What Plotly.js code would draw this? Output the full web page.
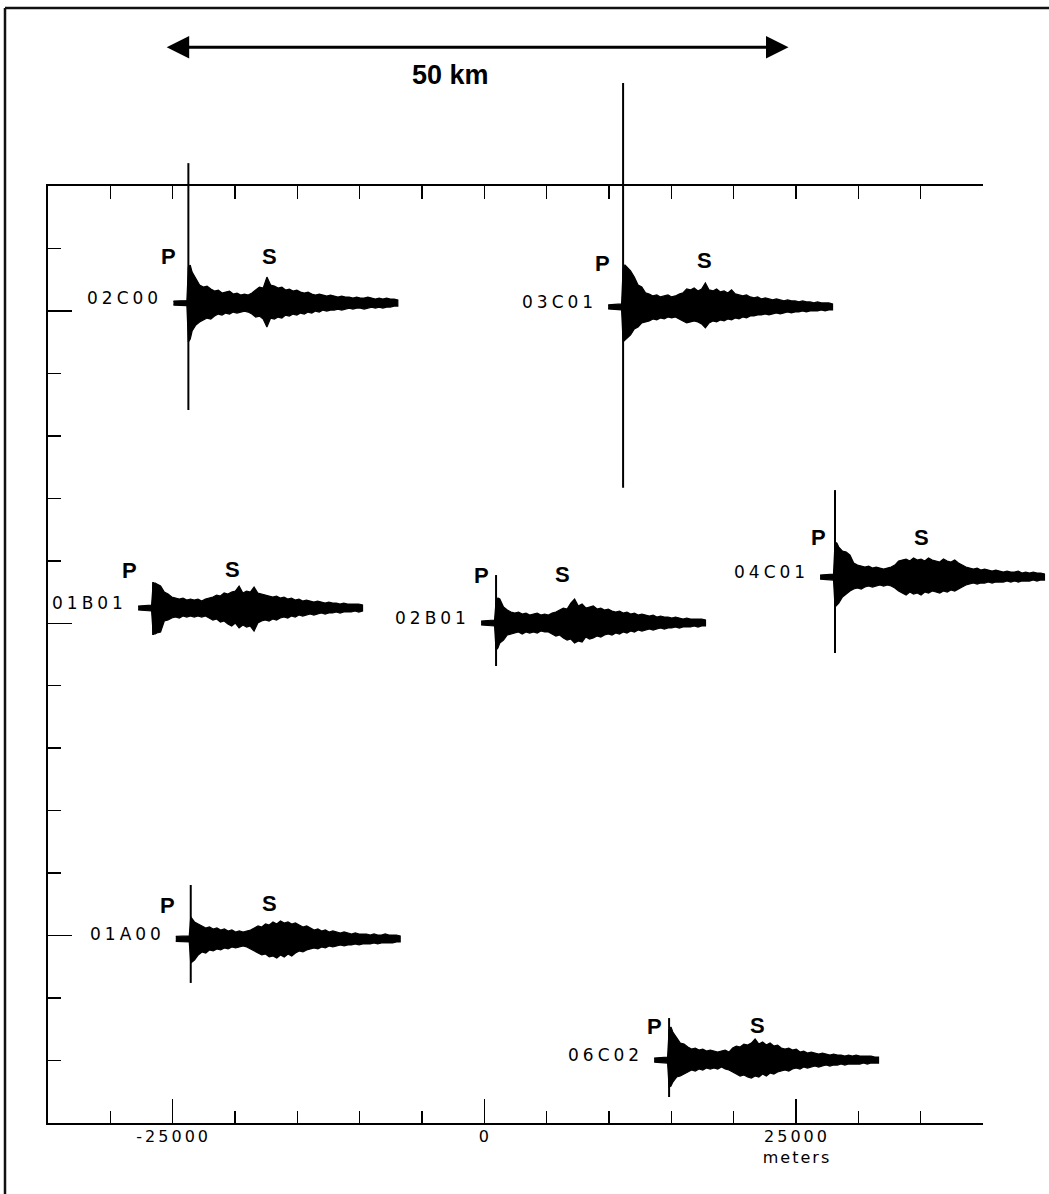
<!DOCTYPE html>
<html><head><meta charset="utf-8">
<script src="https://cdn.plot.ly/plotly-3.0.1.min.js"></script>
<style>html,body{margin:0;padding:0;background:#fff}#chart{width:1049px;height:1194px}</style>
</head><body><div id="chart"></div>
<script>
// ---------------- data ----------------
const stations = ['02C00', '03C01', '01B01', '02B01', '04C01', '01A00', '06C02'];
// trace start (metres) and baseline (metres) of each seismogram on the map
const stationX = [-24940, 9930, -27770, -260, 26930, -24750, 13620];
const stationY = [25630, 25320, 1220, 20, 3700, -25270, -34960];
// sample times (s) of the envelope readings
const timeSec = [0, 3.6, 4, 4.5, 5, 6, 7, 8, 9, 10, 11, 12, 13, 14, 15, 16, 17, 18, 19, 20,
  21, 22, 23, 24, 25, 26, 27, 28, 29, 30, 31, 32, 33, 34, 35, 36, 37, 38, 39, 40,
  41, 42, 43, 44, 45, 46, 47, 48, 49, 50, 51, 52, 53, 54, 55, 56, 57, 58, 59, 60];
// upper / lower envelope (counts) read from the records
const up02C00 = [2, 2.5, 36, 38, 31, 24, 18, 16, 17, 14, 12, 13, 10, 11, 12, 9, 10, 8, 9, 8, 10, 13, 16, 15, 26, 18, 17, 15, 16, 13, 14, 12, 13, 11, 10, 11, 9, 8, 9, 8, 7, 8, 7, 6, 7, 6, 6, 5, 6, 5, 5, 6, 5, 4, 5, 4, 5, 4, 4, 3];
const dn02C00 = [2, 2.5, 39, 36, 28, 22, 19, 17, 15, 16, 13, 11, 12, 10, 11, 9, 10, 9, 8, 9, 11, 14, 13, 16, 24, 15, 16, 14, 15, 12, 13, 11, 12, 10, 11, 9, 10, 8, 9, 7, 8, 7, 7, 6, 7, 6, 5, 6, 5, 5, 6, 5, 4, 5, 4, 5, 4, 4, 3, 3];
const up03C01 = [2, 3, 38, 42, 40, 36, 30, 22, 20, 14, 13, 11, 12, 10, 11, 12, 10, 11, 13, 14, 18, 17, 19, 16, 18, 24, 17, 16, 18, 15, 16, 14, 17, 13, 12, 11, 12, 10, 9, 10, 8, 9, 8, 7, 8, 7, 6, 7, 6, 6, 5, 6, 5, 5, 4, 5, 4, 4, 4, 3];
const dn03C01 = [2, 3, 35, 33, 32, 28, 22, 20, 16, 15, 14, 12, 13, 11, 12, 10, 11, 10, 12, 14, 16, 15, 14, 15, 17, 21, 16, 14, 15, 13, 14, 12, 13, 11, 12, 10, 11, 9, 9, 8, 8, 7, 8, 7, 6, 7, 6, 5, 6, 5, 5, 4, 5, 4, 4, 4, 3, 4, 3, 3];
const up01B01 = [2, 3, 24, 25, 24, 22, 16, 14, 11, 10, 9, 10, 8, 9, 8, 9, 7, 9, 10, 11, 13, 12, 15, 14, 16, 17, 22, 15, 17, 16, 21, 15, 14, 13, 12, 11, 12, 10, 11, 9, 10, 8, 9, 7, 8, 7, 6, 7, 6, 5, 6, 5, 5, 4, 5, 4, 4, 4, 4, 3];
const dn01B01 = [2, 3, 25, 26, 25, 24, 13, 12, 10, 9, 10, 8, 9, 8, 9, 8, 9, 8, 10, 12, 11, 14, 13, 16, 18, 15, 20, 17, 19, 18, 23, 15, 13, 12, 13, 11, 12, 10, 9, 10, 8, 9, 7, 8, 7, 6, 7, 6, 5, 6, 5, 5, 4, 5, 4, 4, 4, 3, 4, 3];
const up02B01 = [2, 3, 22, 25, 24, 16, 13, 11, 10, 11, 9, 10, 8, 9, 10, 8, 9, 8, 10, 11, 13, 15, 14, 20, 24, 17, 19, 15, 16, 17, 14, 15, 13, 14, 12, 11, 12, 10, 11, 9, 10, 8, 9, 8, 7, 8, 6, 7, 6, 6, 5, 6, 5, 4, 5, 4, 4, 4, 4, 3];
const dn02B01 = [2, 3, 27, 25, 20, 17, 12, 11, 10, 9, 11, 9, 10, 9, 10, 8, 9, 9, 11, 13, 12, 15, 17, 16, 20, 18, 19, 14, 16, 15, 13, 14, 12, 11, 12, 10, 11, 9, 10, 8, 9, 7, 8, 7, 6, 7, 6, 5, 6, 5, 5, 4, 5, 4, 4, 4, 3, 4, 3, 3];
const up04C01 = [2, 3, 35, 34, 30, 26, 25, 22, 14, 12, 11, 10, 11, 9, 10, 9, 8, 9, 10, 12, 16, 17, 18, 16, 19, 17, 18, 16, 19, 17, 16, 15, 18, 16, 15, 17, 14, 12, 10, 9, 8, 9, 7, 8, 7, 6, 7, 6, 5, 6, 5, 5, 6, 4, 5, 4, 5, 4, 4, 3];
const dn04C01 = [2, 3, 30, 28, 26, 20, 17, 14, 12, 11, 12, 10, 9, 10, 9, 8, 9, 8, 9, 11, 14, 16, 18, 15, 17, 16, 18, 15, 16, 14, 15, 16, 14, 15, 13, 14, 12, 10, 8, 7, 6, 7, 6, 6, 5, 6, 5, 5, 5, 4, 5, 4, 5, 4, 4, 4, 3, 4, 3, 3];
const up01A00 = [2.5, 3, 22, 20, 17, 15, 13, 11, 12, 10, 11, 9, 10, 8, 9, 7, 8, 7, 8, 9, 11, 13, 12, 15, 14, 17, 15, 18, 16, 17, 15, 16, 14, 12, 13, 11, 9, 10, 8, 9, 7, 8, 7, 6, 7, 6, 5, 6, 5, 5, 5, 4, 5, 4, 4, 5, 4, 4, 4, 3];
const dn01A00 = [2.5, 3, 24, 23, 21, 16, 13, 14, 11, 12, 10, 11, 9, 10, 8, 9, 8, 7, 8, 10, 12, 14, 16, 15, 18, 17, 19, 16, 18, 15, 17, 14, 12, 13, 11, 10, 9, 10, 8, 9, 7, 8, 7, 6, 7, 6, 6, 5, 6, 5, 5, 5, 4, 5, 4, 4, 4, 4, 3, 3];
const up06C02 = [2, 3, 30, 33, 28, 22, 17, 16, 13, 11, 12, 10, 11, 9, 10, 9, 8, 9, 10, 8, 12, 14, 13, 16, 15, 17, 21, 16, 18, 15, 17, 14, 15, 12, 11, 12, 10, 11, 8, 9, 7, 8, 7, 6, 7, 6, 5, 6, 5, 5, 4, 5, 4, 5, 4, 4, 4, 4, 3, 3];
const dn06C02 = [2, 3, 27, 26, 22, 17, 16, 14, 12, 10, 11, 9, 10, 8, 9, 8, 9, 7, 9, 10, 12, 14, 16, 15, 17, 18, 16, 17, 14, 16, 13, 14, 12, 11, 10, 11, 9, 8, 9, 7, 8, 7, 6, 7, 6, 5, 6, 5, 5, 4, 5, 4, 4, 4, 4, 3, 4, 3, 3, 3];
const envUp = [up02C00, up03C01, up01B01, up02B01, up04C01, up01A00, up06C02];
const envDn = [dn02C00, dn03C01, dn01B01, dn02B01, dn04C01, dn01A00, dn06C02];
// P first-motion spike (counts up / down) and its time (s)
const pTime = [4, 4, 4, 4, 4, 4, 4];
const spikeUp = [140, 224, 26, 48, 87, 54, 42];
const spikeDn = [107, 181, 27, 43, 76, 44, 37];
// P and S picks: label time (s) and label height (counts)
const pLabelT = [-1.4, -1.5, -2.4, 0.1, -0.3, -2.2, 0.1];
const pLabelH = [47, 43.5, 38, 48, 39.5, 33, 33.5];
const sLabelT = [25.6, 25.9, 25.1, 21.8, 27.0, 25.1, 27.6];
const sLabelH = [47, 46, 39, 49, 40, 35, 35];
// axes
const xRange = [-35000, 40000];
const yRange = [-40000, 35000];
const majorTicks = [-25000, 0, 25000];
const majorTickText = ['-25000', '0', '25000'];
const axisUnit = 'meters';
const minorTicks = [-35000, -30000, -25000, -20000, -15000, -10000, -5000, 0, 5000, 10000, 15000, 20000, 25000, 30000, 35000, 40000];
const minorTicksY = [-40000, -35000, -30000, -25000, -20000, -15000, -10000, -5000, 0, 5000, 10000, 15000, 20000, 25000, 30000, 35000];
// scale bar
const scaleBarStart = -25600, scaleBarLength = 50000, scaleBarY = 46100;
const scaleBarLabel = '50 km', scaleBarLabelX = -2750, scaleBarLabelY = 43900;

// ---------------- drawing ----------------
const GAIN = 80;        // plot metres per count
const TIME_SCALE = 300; // plot metres per second
const W = 1049, H = 1194;
const plotL = 48, plotR = 983, plotT = 186, plotB = 1123;
const mx = (xRange[1] - xRange[0]) / (plotR - plotL);
const my = (yRange[1] - yRange[0]) / (plotB - plotT);
const x2Range = [xRange[0] - plotL * mx, xRange[1] + (W - plotR) * mx];
const y2Range = [yRange[0] - (H - plotB) * my, yRange[1] + plotT * my];

const spaced = (s, px) => '<span style="letter-spacing:' + px + 'px">' + s + '</span>';
const labelFont = {family: 'DejaVu Sans, Verdana, sans-serif', size: 17, color: '#000'};
const boldFont = {family: 'Liberation Sans, Arial, sans-serif', size: 22, color: '#000', weight: 'bold'};

const traces = [];
const annotations = [];
// invisible anchors so the framed axes exist
traces.push({type: 'scatter', x: [xRange[0]], y: [yRange[0]], mode: 'markers', marker: {opacity: 0}, hoverinfo: 'skip', xaxis: 'x', yaxis: 'y'});
traces.push({type: 'scatter', x: [xRange[0]], y: [yRange[0]], mode: 'markers', marker: {opacity: 0}, hoverinfo: 'skip', xaxis: 'x3', yaxis: 'y'});

stations.forEach((name, i) => {
  const n = Math.min(timeSec.length, envUp[i].length, envDn[i].length);
  const xs = [], yu = [], yd = [];
  for (let k = 0; k < n; k++) {
    xs.push(stationX[i] + timeSec[k] * TIME_SCALE);
    yu.push(stationY[i] + envUp[i][k] * GAIN);
    yd.push(stationY[i] - envDn[i][k] * GAIN);
  }
  traces.push({
    type: 'scatter', mode: 'lines', xaxis: 'x2', yaxis: 'y2', hoverinfo: 'skip',
    x: xs.concat(xs.slice().reverse()), y: yu.concat(yd.slice().reverse()),
    fill: 'toself', fillcolor: '#000', line: {color: '#000', width: 1.2}
  });
  const px = stationX[i] + pTime[i] * TIME_SCALE;
  traces.push({
    type: 'scatter', mode: 'lines', xaxis: 'x2', yaxis: 'y2', hoverinfo: 'skip',
    x: [px, px], y: [stationY[i] + spikeUp[i] * GAIN, stationY[i] - spikeDn[i] * GAIN],
    line: {color: '#000', width: 2}
  });
  annotations.push({xref: 'x2', yref: 'y2', x: stationX[i], y: stationY[i], xanchor: 'right', yanchor: 'middle',
    xshift: -9, yshift: 5, text: spaced(name, 4), showarrow: false, font: labelFont});
  annotations.push({xref: 'x2', yref: 'y2', x: stationX[i] + pLabelT[i] * TIME_SCALE, y: stationY[i] + pLabelH[i] * GAIN,
    xanchor: 'center', yanchor: 'middle', text: 'P', showarrow: false, font: boldFont});
  annotations.push({xref: 'x2', yref: 'y2', x: stationX[i] + sLabelT[i] * TIME_SCALE, y: stationY[i] + sLabelH[i] * GAIN,
    xanchor: 'center', yanchor: 'middle', text: 'S', showarrow: false, font: boldFont});
});

// scale bar
annotations.push({xref: 'x2', yref: 'y2', axref: 'x2', ayref: 'y2',
  x: scaleBarStart + scaleBarLength, y: scaleBarY, ax: scaleBarStart, ay: scaleBarY,
  text: '', showarrow: true, arrowside: 'end+start', arrowhead: 2, startarrowhead: 2,
  arrowsize: 1.5, startarrowsize: 1.5, arrowwidth: 3, arrowcolor: '#000', standoff: 0, startstandoff: 0});
annotations.push({xref: 'x2', yref: 'y2', x: scaleBarLabelX, y: scaleBarLabelY, text: scaleBarLabel, showarrow: false,
  xanchor: 'center', yanchor: 'middle', font: {family: 'Liberation Sans, Arial, sans-serif', size: 27, color: '#000', weight: 'bold'}});

// tick labels: last one carries the axis unit on a second line
const tickLabels = majorTickText.map((t, i) => spaced(t, 3) + (i === majorTickText.length - 1 ? '<br>' + spaced(axisUnit, 2) : ''));
const tickFont = {family: 'DejaVu Sans, Verdana, sans-serif', size: 16, color: '#000'};

const axBase = {showgrid: false, zeroline: false, fixedrange: true, showline: true, linecolor: '#000', linewidth: 2,
  tickcolor: '#000', tickwidth: 1.5, ticks: 'inside'};
const layout = {
  width: W, height: H, margin: {l: 0, r: 0, t: 0, b: 0, pad: 0},
  paper_bgcolor: '#fff', plot_bgcolor: 'rgba(0,0,0,0)', showlegend: false,
  xaxis: Object.assign({}, axBase, {
    domain: [plotL / W, plotR / W], range: xRange, anchor: 'y', ticklen: 24,
    tickmode: 'array', tickvals: majorTicks, ticktext: tickLabels,
    tickfont: tickFont, ticklabelstandoff: -2, ticklabelshift: 1,
    minor: {tickmode: 'array', tickvals: minorTicks, ticks: 'inside', ticklen: 12, tickwidth: 1.5, tickcolor: '#000', showgrid: false}
  }),
  xaxis3: Object.assign({}, axBase, {
    overlaying: 'x', side: 'top', anchor: 'y', range: xRange, ticklen: 13,
    tickmode: 'array', tickvals: minorTicks, showticklabels: false
  }),
  yaxis: Object.assign({}, axBase, {
    domain: [1 - plotB / H, 1 - plotT / H], range: yRange, anchor: 'x', ticklen: 24,
    tickmode: 'array', tickvals: majorTicks, showticklabels: false,
    minor: {tickmode: 'array', tickvals: minorTicksY, ticks: 'inside', ticklen: 13, tickwidth: 1.5, tickcolor: '#000', showgrid: false}
  }),
  xaxis2: {domain: [0, 1], range: x2Range, anchor: 'y2', visible: false, fixedrange: true},
  yaxis2: {domain: [0, 1], range: y2Range, anchor: 'x2', visible: false, fixedrange: true},
  shapes: [
    {type: 'line', xref: 'paper', yref: 'paper', x0: 5 / W, x1: 5 / W, y0: 0, y1: 1 - 8 / H, line: {color: '#111', width: 2.5}},
    {type: 'line', xref: 'paper', yref: 'paper', x0: 5 / W, x1: 1, y0: 1 - 8 / H, y1: 1 - 8 / H, line: {color: '#111', width: 2.5}}
  ],
  annotations: annotations
};
Plotly.newPlot('chart', traces, layout, {staticPlot: true, displayModeBar: false});
</script>
</body></html>
